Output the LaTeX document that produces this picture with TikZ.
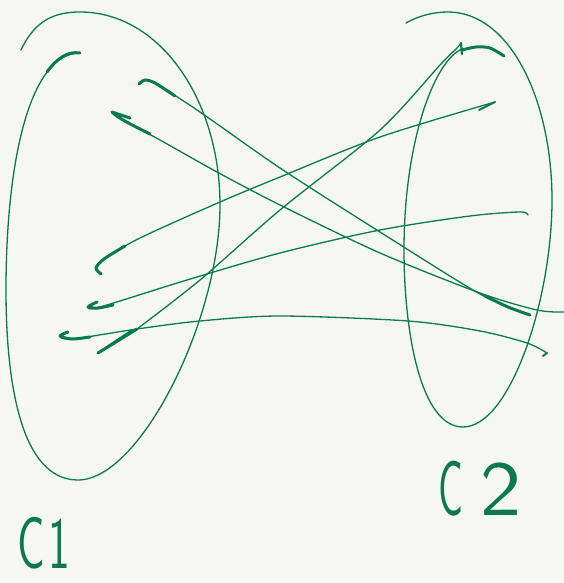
\documentclass[tikz,border=0pt]{standalone}
\usepackage{tikz}
\usepackage{graphicx}
\definecolor{ink}{RGB}{10,122,76}
\definecolor{paper}{RGB}{246,247,242}
\tikzset{
  pen/.style={draw=ink,line width=1.3pt,line cap=round,line join=round},
  penthick/.style={draw=ink,line width=3pt,line cap=round,line join=round},
  lbl/.style={text=ink,font=\sffamily\fontsize{46}{46}\selectfont,inner sep=0pt}
}
\begin{document}
\begin{tikzpicture}[x=1pt,y=-1pt]
    \fill[paper] (0,0) rectangle (564,583);
    \useasboundingbox (0,0) rectangle (564,583);
    % cluster C1
    \draw[pen] (21,50) .. controls (35,20) and (55,12) .. (80,12)
      .. controls (160,12) and (220,100) .. (220,205)
      .. controls (220,320) and (140,480) .. (78,480)
      .. controls (20,480) and (6,380) .. (6,290)
      .. controls (6,160) and (30,53) .. (80,53);
    \draw[penthick] (47,72) .. controls (57,58) and (68,51) .. (80,53);
    % cluster C2
    \draw[pen] (406,23) .. controls (420,15) and (435,12) .. (448,12)
      .. controls (510,12) and (552,100) .. (552,200)
      .. controls (552,300) and (510,427) .. (463,427)
      .. controls (420,427) and (404,330) .. (404,250)
      .. controls (404,140) and (435,60) .. (462,49);
    \draw[penthick] plot[smooth] coordinates {(462,50) (476,47) (490,48) (504,56)};
    % crossing strokes
    \draw[pen] plot[smooth] coordinates {(139,84) (145,80) (155,83) (200,112) (280,168) (380,232) (480,294) (530,315)};
    \draw[penthick] plot[smooth] coordinates {(139,84) (145,80) (155,83) (175,96)};
    \draw[penthick] plot[smooth] coordinates {(485,296) (508,307) (530,315)};
    \draw[pen] plot[smooth] coordinates {(112,112) (125,121) (160,140) (217,172) (280,205) (380,253) (480,293) (537,310) (564,312)};
    \draw[penthick] (130,118) -- (112,112) .. controls (118,118) and (130,124) .. (150,134);
    \draw[pen] plot[smooth] coordinates {(101,274) (96,268) (104,259) (140,238) (220,202) (280,177) (380,137) (495,102)};
    \draw[penthick] plot[smooth] coordinates {(101,274) (96,268) (104,259) (125,246)};
    \draw[pen,line width=2pt] (495,102) -- (479,110);
    \draw[pen] plot[smooth] coordinates {(97,302) (88,307) (100,307) (187,280) (280,253) (380,230) (470,216) (520,212) (528,215)};
    \draw[penthick] plot[smooth] coordinates {(97,302) (88,307) (98,308) (113,305)};
    \draw[pen] plot[smooth] coordinates {(68,332) (60,336) (72,339) (137,329) (200,321) (280,316) (408,321) (480,331) (527,343) (547,353)};
    \draw[penthick] plot[smooth] coordinates {(68,332) (60,336) (72,339) (90,337)};
    \draw[pen,line width=2pt] (547,353) -- (543,356);
    \draw[pen] plot[smooth] coordinates {(137,329) (200,280) (280,210) (380,130) (440,65) (457,48) (461,43)};
    \draw[penthick] (98,353) -- (137,329);
    \draw[pen,line width=1.8pt] (99,352) -- (132,330);
    \draw[pen,line width=2.2pt] (461,43) -- (462,54);
    % labels
    \node[lbl] (c1) at (44,543) {\scalebox{1}[1.6]{C\hspace{4pt}1}};
    \node[lbl] (c2) at (480,489) {\scalebox{0.9}[1.7]{C}\hspace{18pt}\scalebox{1.9}[1.7]{2}};
\end{tikzpicture}
\end{document}
